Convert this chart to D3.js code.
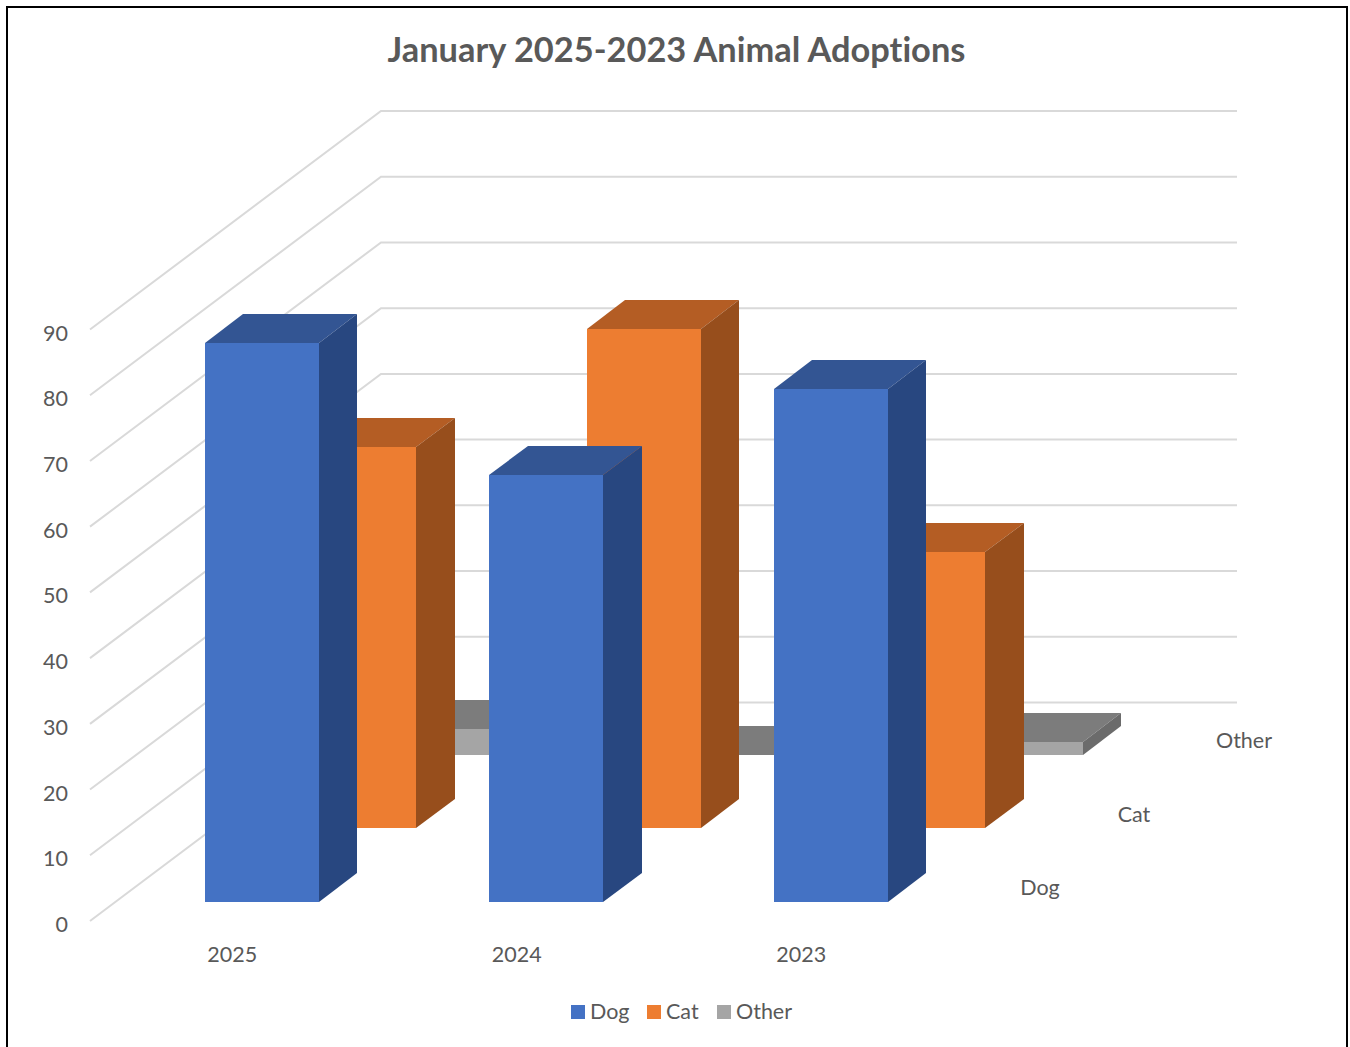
<!DOCTYPE html>
<html><head><meta charset="utf-8">
<script src="https://cdn.jsdelivr.net/npm/d3@7"></script>
<style>html,body{margin:0;padding:0;background:#fff}svg{display:block}text{font-family:Lato,"Open Sans",sans-serif;fill:#595959;font-variant-ligatures:none}</style>
</head><body><svg id="c" width="1350" height="1047"></svg>
<script>
const titleText = "January 2025-2023 Animal Adoptions";
const categories = ["2025","2024","2023"];
const seriesNames = ["Dog","Cat","Other"];
const dogValues = [85,65,78];
const catValues = [58,76,42];
const otherValues = [4,0,2];
const valueTicks = [0,10,20,30,40,50,60,70,80,90];
const seriesValues = [dogValues,catValues,otherValues];
const faceColors = ["#4472C4","#ED7D31","#A5A5A5"];
const topColors = ["#335593","#B45D24","#7C7C7C"];
const sideColors = ["#284780","#974E1C","#6B6B6B"];

const svg = d3.select("#c");
// oblique projection: x across categories, v up, z into the picture
const xS = d3.scaleBand().domain(categories).range([90,943.5]).paddingInner(0).paddingOuter(0);
const yS = d3.scaleLinear().domain([0,90]).range([921,329.5]);
const zX = d3.scaleLinear().domain([0,3]).range([0,292.5]);
const zY = d3.scaleLinear().domain([0,3]).range([0,-220.5]);
const wallX = 291, wallY = -218.5, wallW = 856;
const P = (x,v,z)=>[Math.round(x+zX(z)), Math.round(yS(v)+zY(z))];
const barOff = 0.315*xS.step(), barW = 0.4*xS.step();
const zFront = 0.26, zDepth = 0.395;

svg.append("rect").attr("x",7).attr("y",7).attr("width",1340).attr("height",1060)
  .attr("fill","#fff").attr("stroke","#000").attr("stroke-width",2);

// gridlines: side wall then back wall
const grid = svg.append("g").attr("stroke","#D9D9D9").attr("stroke-width",2).attr("fill","none");
valueTicks.forEach(v=>{
  const y=yS(v);
  grid.append("polyline").attr("points",[[90,y],[90+wallX,y+wallY],[90+wallX+wallW,y+wallY]].join(" "));
});

// bars: back series first
const poly=(g,pts,fill)=>g.append("polygon").attr("points",pts.map(p=>p.join(",")).join(" ")).attr("fill",fill);
d3.range(seriesNames.length-1,-1,-1).forEach(s=>{
  const g=svg.append("g").attr("class","series-"+seriesNames[s]);
  categories.forEach((c,i)=>{
    const v=seriesValues[s][i];
    const x0=xS(c)+barOff, x1=x0+barW, z0=s+zFront, z1=z0+zDepth;
    const h=Math.max(v,0);
    poly(g,[P(x0,h,z0),P(x1,h,z0),P(x1,h,z1),P(x0,h,z1)],topColors[s]);
    poly(g,[P(x1,0,z0),P(x1,h,z0),P(x1,h,z1),P(x1,0,z1)],sideColors[s]);
    poly(g,[P(x0,0,z0),P(x1,0,z0),P(x1,h,z0),P(x0,h,z0)],faceColors[s]);
  });
});

// value labels
svg.append("g").selectAll("text").data(valueTicks).join("text")
  .attr("x",68).attr("y",d=>yS(d)+11).attr("text-anchor","end").attr("font-size",21.5).text(d=>d);
// category labels
svg.append("g").selectAll("text").data(categories).join("text")
  .attr("x",d=>xS(d)+xS.bandwidth()/2).attr("y",962).attr("text-anchor","middle").attr("font-size",21.5).text(d=>d);
// series labels on the depth axis
const seriesLabelX=[1040,1134,1244], seriesLabelY=[895,822,748];
svg.append("g").selectAll("text").data(seriesNames).join("text")
  .attr("x",(d,i)=>seriesLabelX[i]).attr("y",(d,i)=>seriesLabelY[i]).attr("text-anchor","middle").attr("font-size",21.5).text(d=>d);
// title
svg.append("text").attr("x",676.5).attr("y",62).attr("text-anchor","middle").attr("font-size",34.4).attr("font-weight",700).text(titleText);
// legend
const legX=[571,647,717];
const leg=svg.append("g");
seriesNames.forEach((n,i)=>{
  leg.append("rect").attr("x",legX[i]).attr("y",1005).attr("width",14).attr("height",14).attr("fill",faceColors[i]);
  leg.append("text").attr("x",legX[i]+19).attr("y",1019).attr("font-size",21.5).text(n);
});
</script></body></html>
